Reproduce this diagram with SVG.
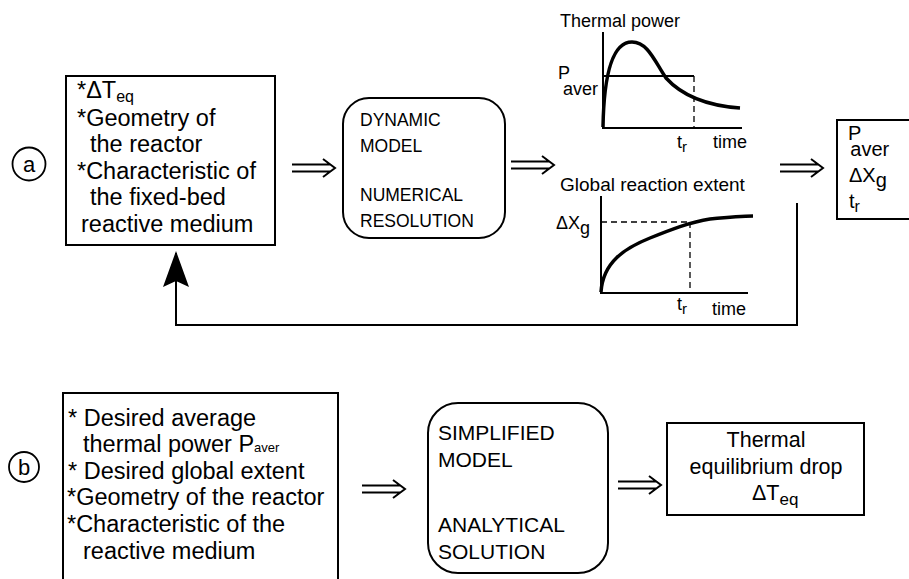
<svg xmlns="http://www.w3.org/2000/svg" width="909" height="579" viewBox="0 0 909 579">
<defs>
<style>
text{font-family:"Liberation Sans",Arial,sans-serif;fill:#000}
.box{fill:#fff;stroke:#000;stroke-width:2}
.rbox{fill:#fff;stroke:#000;stroke-width:2}
.t24{font-size:23.5px}
.t18{font-size:18px}
.t175{font-size:17.5px}
.t19{font-size:19px}
.t20{font-size:20px}
.t21{font-size:21.5px}
.t22{font-size:22px}
.ax{fill:none;stroke:#000;stroke-width:2}
.crv{fill:none;stroke:#000;stroke-width:3.5}
.dash{fill:none;stroke:#000;stroke-width:1.3;stroke-dasharray:6,4}
.dbl{fill:none;stroke:#000;stroke-width:2}
.fb{fill:none;stroke:#000;stroke-width:2}
</style>
<marker id="ah" viewBox="0 -13 36 26" refX="34" refY="0" markerWidth="36" markerHeight="26" markerUnits="userSpaceOnUse" orient="auto">
<path d="M0,-13 L36,0 L0,13 L6,0 Z" fill="#000"/>
</marker>
<g id="dblarrow">
<path d="M0,-3.5 H38 M0,3.5 H38 M31,-9 L43,0 L31,9" class="dbl"/>
</g>
</defs>
<rect width="909" height="579" fill="#fff"/>

<g id="label-a">
<circle cx="29" cy="164" r="16.5" fill="none" stroke="#000" stroke-width="1.8"/>
<text x="29" y="172" text-anchor="middle" class="t22">a</text>
</g>

<g id="inputs-a">
<rect x="66" y="76" width="209" height="169" class="box"/>
<text class="t24" x="77" y="98">*ΔT<tspan font-size="16" dy="4">eq</tspan></text>
<text class="t24" x="77" y="126">*Geometry of</text>
<text class="t24" x="90" y="152">the reactor</text>
<text class="t24" x="77" y="179">*Characteristic of</text>
<text class="t24" x="90" y="205">the fixed-bed</text>
<text class="t24" x="81" y="232">reactive medium</text>
</g>

<g id="dynamic-model">
<rect x="343" y="98" width="162" height="140" rx="26" class="rbox"/>
<text class="t175" x="360" y="126">DYNAMIC</text>
<text class="t175" x="360" y="152">MODEL</text>
<text class="t175" x="360" y="201">NUMERICAL</text>
<text class="t175" x="360" y="227">RESOLUTION</text>
</g>

<g id="chart-thermal-power">
<text class="t18" x="560" y="27">Thermal power</text>
<path d="M603,32 V128 H742" class="ax"/>
<path d="M603,76 H694" class="ax"/>
<path d="M694,76 V128" class="dash"/>
<path d="M603,127 C604,70 614,42 632,42 C648,42 655,62 666,78 C684,98 712,106 740,108" class="crv"/>
<text class="t18" x="558" y="79">P<tspan dx="-7" dy="16">aver</tspan></text>
<text class="t18" x="677" y="148">t<tspan font-size="15" dy="4">r</tspan></text>
<text class="t18" x="713" y="148">time</text>
</g>

<g id="chart-global-extent">
<text class="t19" x="560" y="191">Global reaction extent</text>
<path d="M601,196 V293 H748" class="ax"/>
<path d="M601,222 H690 M690,222 V293" class="dash"/>
<path d="M601,292 C603,262 625,248 650,238 C670,230 690,222 710,219 C730,217 745,216 753,216" class="crv"/>
<text class="t18" x="556" y="229">ΔX<tspan dy="5">g</tspan></text>
<text class="t18" x="677" y="310">t<tspan font-size="15" dy="4">r</tspan></text>
<text class="t18" x="712" y="315">time</text>
</g>

<g id="outputs-a">
<rect x="837" y="120" width="90" height="99" class="box"/>
<text class="t20" x="848" y="140">P<tspan dx="-11" dy="16">aver</tspan></text>
<text class="t20" x="849" y="182">ΔX<tspan dy="5">g</tspan></text>
<text class="t20" x="849" y="208">t<tspan font-size="16" dy="4">r</tspan></text>
</g>

<g id="label-b">
<circle cx="24" cy="467" r="15" fill="none" stroke="#000" stroke-width="1.8"/>
<text x="24" y="475" text-anchor="middle" class="t22">b</text>
</g>

<g id="inputs-b">
<rect x="63" y="393" width="275" height="200" class="box"/>
<text class="t24" x="68" y="426">* Desired average</text>
<text class="t24" x="83" y="452">thermal power P<tspan font-size="13">aver</tspan></text>
<text class="t24" x="68" y="479">* Desired global extent</text>
<text class="t24" x="67" y="505">*Geometry of the reactor</text>
<text class="t24" x="67" y="532">*Characteristic of the</text>
<text class="t24" x="83" y="559">reactive medium</text>
</g>

<g id="simplified-model">
<rect x="428" y="403" width="180" height="170" rx="30" class="rbox"/>
<text x="438" y="440" style="font-size:21px">SIMPLIFIED</text>
<text x="438" y="467" style="font-size:21px">MODEL</text>
<text x="438" y="532" style="font-size:21px">ANALYTICAL</text>
<text x="438" y="559" style="font-size:21px">SOLUTION</text>
</g>

<g id="thermal-drop">
<rect x="667" y="423" width="197" height="92" class="box"/>
<text class="t21" x="766" y="447" text-anchor="middle">Thermal</text>
<text class="t21" x="766" y="474" text-anchor="middle">equilibrium drop</text>
<text class="t21" x="752" y="500">ΔT<tspan font-size="17" dy="5">eq</tspan></text>
</g>

<g id="connectors">
<use href="#dblarrow" x="292" y="168"/>
<use href="#dblarrow" x="511" y="165"/>
<use href="#dblarrow" x="780" y="168"/>
<use href="#dblarrow" x="362" y="489"/>
<use href="#dblarrow" x="618" y="485"/>
<path d="M797,203 V325 H176 V253" class="fb" marker-end="url(#ah)"/>
</g>
</svg>
